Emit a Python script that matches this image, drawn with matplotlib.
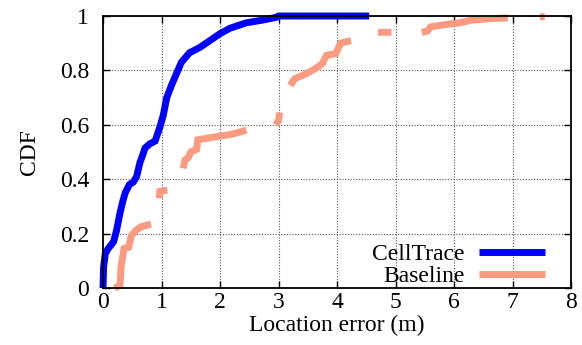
import numpy as np
import matplotlib
matplotlib.use("Agg")
import matplotlib.pyplot as plt

nan = np.nan

# CellTrace CDF
celltrace_x = [0.0, 0.01, 0.04, 0.09, 0.18, 0.23, 0.29, 0.34, 0.38, 0.45, 0.52, 0.575,
               0.63, 0.68, 0.72, 0.80, 0.89, 0.97, 1.03, 1.09, 1.17, 1.26, 1.34, 1.48,
               1.66, 1.83, 2.0, 2.17, 2.45, 2.73, 2.96, 3.0, 4.55]
celltrace_y = [0.0, 0.078, 0.127, 0.145, 0.17, 0.21, 0.275, 0.32, 0.35, 0.38, 0.39, 0.41,
               0.46, 0.49, 0.515, 0.53, 0.54, 0.59, 0.635, 0.70, 0.745, 0.79, 0.83, 0.865,
               0.885, 0.91, 0.935, 0.955, 0.975, 0.985, 0.995, 1.0, 1.0]

# Baseline CDF (visible pieces, gaps as NaN)
baseline_x = [0.2, 0.29, 0.31, 0.36, 0.44, 0.48, 0.55, 0.65, 0.82, nan,
              0.96, 0.97, 1.1, nan,
              1.37, 1.40, 1.46, 1.5, 1.6, 1.62, 1.9, 2.2, 2.45, nan,
              2.95, 3.0, 3.02, nan,
              3.2, 3.28, 3.45, 3.62, 3.75, 3.82, 3.98, 4.06, 4.24, nan,
              4.70, 4.93, nan,
              5.45, 5.55, 5.6, 5.9, 6.1, 6.3, 6.6, 6.92, nan,
              7.47, 7.55]
baseline_y = [0.0, 0.01, 0.08, 0.145, 0.15, 0.19, 0.21, 0.225, 0.235, nan,
              0.33, 0.355, 0.36, nan,
              0.44, 0.47, 0.48, 0.50, 0.51, 0.545, 0.555, 0.565, 0.58, nan,
              0.60, 0.615, 0.645, nan,
              0.745, 0.77, 0.785, 0.805, 0.825, 0.855, 0.862, 0.90, 0.91, nan,
              0.94, 0.94, nan,
              0.94, 0.945, 0.96, 0.97, 0.975, 0.985, 0.99, 0.993, nan,
              0.997, 0.997]

x_ticks = [0, 1, 2, 3, 4, 5, 6, 7, 8]
y_ticks = [0, 0.2, 0.4, 0.6, 0.8, 1.0]
y_ticklabels = ["0", "0.2", "0.4", "0.6", "0.8", "1"]

plt.rcParams['font.family'] = ['Liberation Serif', 'DejaVu Serif']
fs = 17

fig = plt.figure(figsize=(5.82, 3.45), dpi=100)
ax = fig.add_axes([103/582, 1 - 288/345, (571-103)/582, (288-16)/345])

ax.plot(celltrace_x, celltrace_y, color='#0000ff', lw=5.0, solid_capstyle='butt',
        solid_joinstyle='miter', label='CellTrace', zorder=3, clip_on=False)
ax.plot(baseline_x, baseline_y, color='#fa9a80', lw=5.0, solid_capstyle='butt',
        solid_joinstyle='miter', label='Baseline', zorder=3, clip_on=False)

ax.set_xlim(0, 8)
ax.set_ylim(0, 1)
ax.set_xticks(x_ticks)
ax.set_xticklabels([str(t) for t in x_ticks], fontsize=fs)
ax.set_yticks(y_ticks)
ax.set_yticklabels(y_ticklabels, fontsize=fs)
ax.tick_params(direction='in', top=True, right=True, length=5, width=1.0,
               color='black', pad=3)
ax.tick_params(axis='y', pad=10)
ax.grid(True, linestyle=(0, (1, 1.5)), color='#555555', lw=0.8)
for s in ax.spines.values():
    s.set_linewidth(1.3)
    s.set_zorder(4)

ax.set_xlabel('Location error (m)', fontsize=fs, labelpad=1)
ax.set_ylabel('CDF', fontsize=fs, labelpad=14)

leg = ax.legend(loc='lower right', bbox_to_anchor=(0.975, -0.048), frameon=False,
                markerfirst=False, fontsize=fs, handlelength=2.8, handletextpad=0.6,
                labelspacing=0.0, borderaxespad=0.2)

fig.savefig('out.png', dpi=100)
